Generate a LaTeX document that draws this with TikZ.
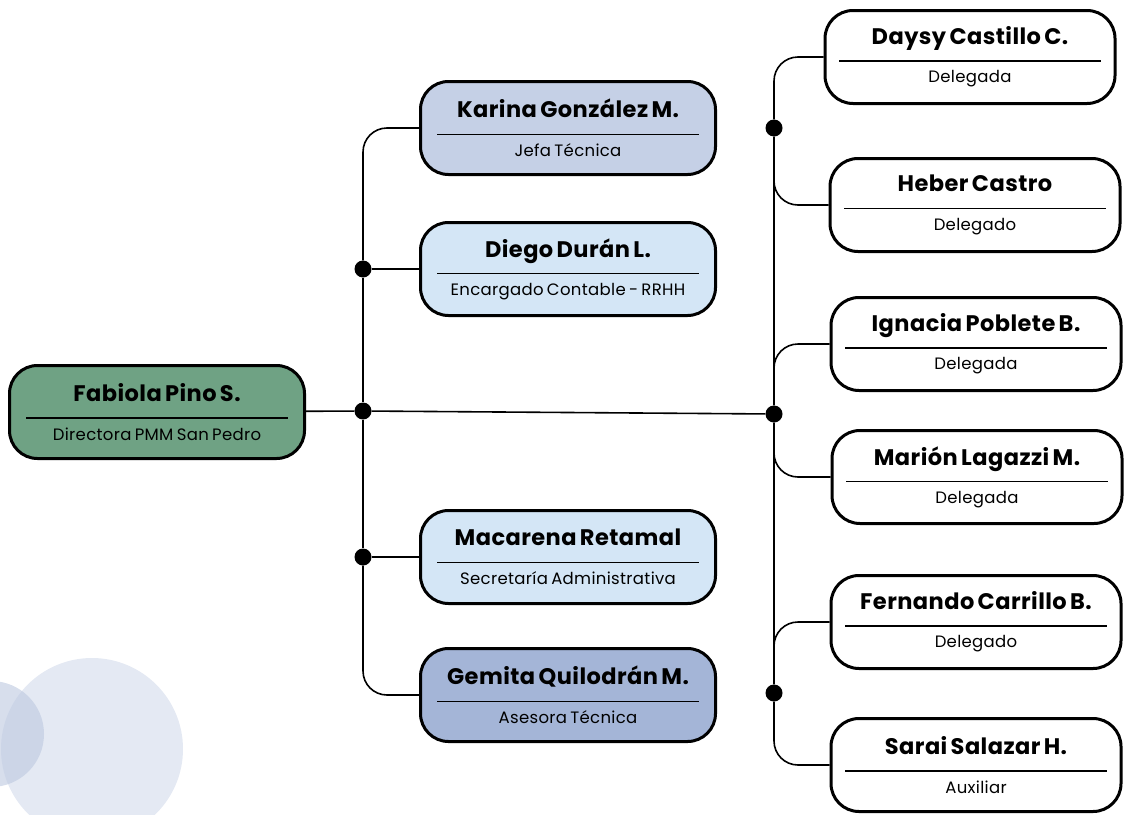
\documentclass[tikz,border=0pt]{standalone}
\usepackage{fontspec}
\setmainfont{Poppins}
\newfontfamily\namefont[LetterSpace=2,WordSpace=2.2]{Poppins}
\newfontfamily\rolefont[LetterSpace=2,WordSpace=1.8]{Poppins}
\usetikzlibrary{arrows.meta, shapes, positioning, calc}

\definecolor{rootgreen}{HTML}{6FA284}
\definecolor{chiefblue}{HTML}{C5D0E6}
\definecolor{staffblue}{HTML}{D4E6F6}
\definecolor{advisorblue}{HTML}{A4B5D7}
\definecolor{bubblebig}{HTML}{E4E9F3}
\definecolor{bubblesmall}{HTML}{BCC8E0}

% name, rule and role inside one box
\newcommand{\staff}[2]{{\namefont\bfseries\fontsize{22.5}{24}\selectfont #1}\\[5pt]\rule{\linewidth}{1.3pt}\\[8pt]{\rolefont\fontsize{16.5}{18}\selectfont #2}}

\begin{document}
\begin{tikzpicture}[
    x=1pt, y=-1pt,
    % Styles
    person/.style={rectangle, draw, rounded corners=28pt, line width=3pt, minimum width=295pt, minimum height=93pt, text width=262pt, align=center, inner xsep=0pt},
    delegate/.style={person, minimum width=290pt, text width=262pt, fill=white},
    link/.style={line width=1.6pt},
    elbow/.style={link, rounded corners=24pt},
    joint/.style={circle, fill=black, minimum size=17pt, inner sep=0pt}
]
\useasboundingbox (0,0) rectangle (1129,814);

% --- Background bubbles ---
\begin{scope}
\clip (0,0) rectangle (1129,814);
\fill[bubblebig] (92,749) circle (91);
\fill[bubblesmall, opacity=0.6] (-9,734) circle (53);
\end{scope}

% --- Director ---
\node[person, fill=rootgreen] (fabiola) at (157,412) {\staff{Fabiola Pino S.}{Directora PMM San Pedro}};

% --- Left column ---
\node[person, fill=chiefblue] (karina) at (568,128) {\staff{Karina González M.}{Jefa Técnica}};
\node[person, fill=staffblue] (diego) at (568,269) {\staff{Diego Durán L.}{Encargado Contable - RRHH}};
\node[person, fill=staffblue] (macarena) at (568,557) {\staff{Macarena Retamal}{Secretaría Administrativa}};
\node[person, fill=advisorblue] (gemita) at (568,695) {\staff{Gemita Quilodrán M.}{Asesora Técnica}};

% --- Right column ---
\node[delegate] (daysy) at (970,57) {\staff{Daysy Castillo C.}{Delegada}};
\node[delegate] (heber) at (975,205) {\staff{Heber Castro}{Delegado}};
\node[delegate] (ignacia) at (976,344) {\staff{Ignacia Poblete B.}{Delegada}};
\node[delegate] (marion) at (977,477) {\staff{Marión Lagazzi M.}{Delegada}};
\node[delegate] (fernando) at (976,622) {\staff{Fernando Carrillo B.}{Delegado}};
\node[delegate] (sarai) at (976,765) {\staff{Sarai Salazar H.}{Auxiliar}};

% --- Joints ---
\node[joint] (hub) at (363,411) {};
\node[joint] (left_top) at (363,269) {};
\node[joint] (left_bot) at (363,557) {};
\node[joint] (right_mid) at (774,414) {};
\node[joint] (right_top) at (774,128) {};
\node[joint] (right_bot) at (774,693) {};

% --- Connectors ---
\draw[link] (fabiola) -- (hub);
\draw[link] (hub) -- (right_mid);
\draw[link] (left_top) -- (hub);
\draw[link] (hub) -- (left_bot);
\draw[link] (left_top) -- (diego);
\draw[link] (left_bot) -- (macarena);
\draw[elbow] (left_top) |- (karina.west);
\draw[elbow] (left_bot) |- (gemita.west);

\draw[link] (right_top) -- (right_mid);
\draw[link] (right_mid) -- (right_bot);
\draw[elbow] (right_top) |- (daysy.west);
\draw[elbow] (right_top) |- (heber.west);
\draw[elbow] (right_mid) |- (ignacia.west);
\draw[elbow] (right_mid) |- (marion.west);
\draw[elbow] (right_bot) |- (fernando.west);
\draw[elbow] (right_bot) |- (sarai.west);

\end{tikzpicture}
\end{document}
